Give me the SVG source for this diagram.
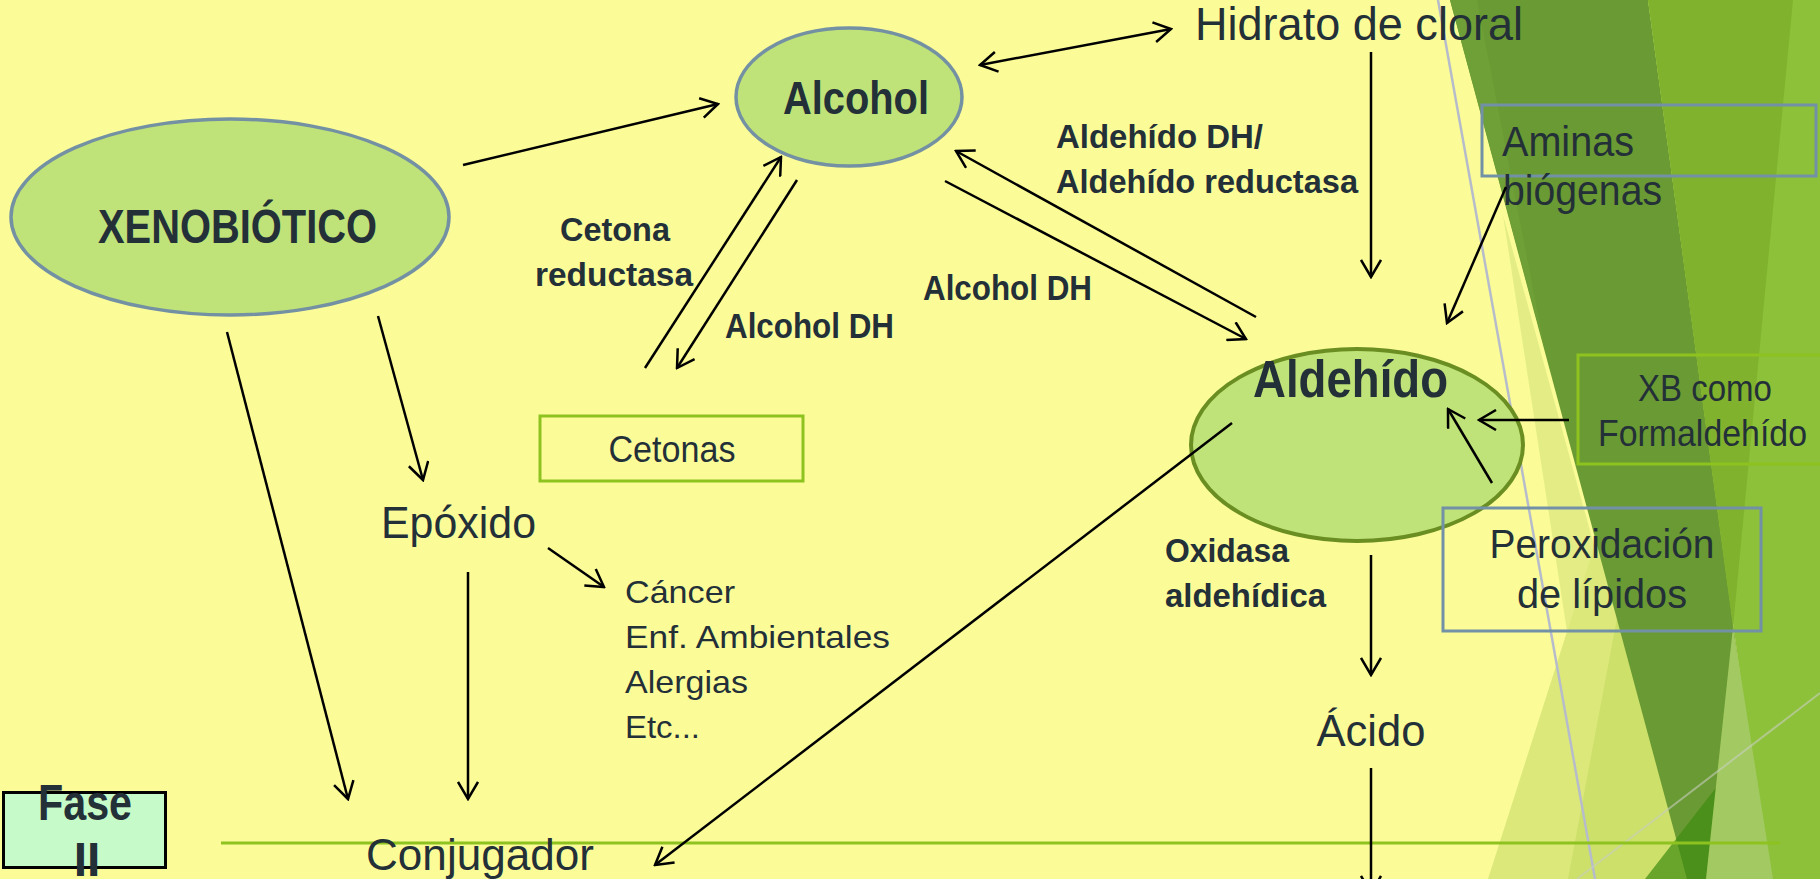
<svg xmlns="http://www.w3.org/2000/svg" width="1820" height="879" viewBox="0 0 1820 879">
  <defs>
    <style>
      .t { font-family: "Liberation Sans", Arial, sans-serif; fill: #243038; }
      .b { font-weight: bold; }
      .ln { fill: none; stroke: #000; stroke-width: 2.5; }
      .tip { marker-end: url(#arr); }
      .both { marker-start: url(#arr); marker-end: url(#arr); }
      .ovl { fill: #BFE378; }
      .box { fill: none; stroke-width: 3; }
    </style>
    <marker id="arr" viewBox="0 0 20 22" refX="18" refY="11" markerWidth="20" markerHeight="22" markerUnits="userSpaceOnUse" orient="auto-start-reverse">
      <path d="M1,1 L18,11 L1,21" fill="none" stroke="#000" stroke-width="2.5"/>
    </marker>
  </defs>

  <!-- slide background and right-hand facets -->
  <g id="background">
    <rect x="0" y="0" width="1820" height="879" fill="#FBFC98"/>
    <polygon points="1503,215 1686,879 1605,879" fill="#E4ED85"/>
    <polygon points="1488,879 1625,450 1705,879" fill="#DCE97A"/>
    <polygon points="1568,879 1628,560 1705,879" fill="#CCE06A"/>
    <polygon points="1450,0 1648,0 1768,879 1687,879" fill="#6A9A33"/>
    <polygon points="1450,0 1477,0 1545,350" fill="#6F9F37"/>
    <polygon points="1648,0 1820,0 1820,879 1768,879" fill="#8DC13A"/>
    <polygon points="1648,0 1793,0 1733,627" fill="#80B22D"/>
    <polygon points="1645,879 1718,785 1740,879" fill="#3E8C10" opacity="0.7"/>
    <polygon points="1733,627 1706,879 1773,879" fill="#A3CA62"/>
    <line x1="1438" y1="0" x2="1595" y2="879" stroke="#B7BCCB" stroke-width="2.5"/>
    <line x1="1577" y1="879" x2="1820" y2="693" stroke="#C8CFC0" stroke-width="2" opacity="0.6"/>
  </g>

  <!-- phase divider -->
  <line id="divider" x1="221" y1="843" x2="1780" y2="843" stroke="#8DC21F" stroke-width="3"/>

  <g id="xenobiotico">
    <ellipse class="ovl" cx="230" cy="217" rx="219" ry="98" stroke="#7391A3" stroke-width="3.5"/>
    <text class="t b" x="98" y="243" font-size="49" textLength="279" lengthAdjust="spacingAndGlyphs">XENOBIÓTICO</text>
  </g>

  <g id="alcohol">
    <ellipse class="ovl" cx="849" cy="97" rx="113" ry="69" stroke="#7391A3" stroke-width="3.5"/>
    <text class="t b" x="783" y="114" font-size="47" textLength="146" lengthAdjust="spacingAndGlyphs">Alcohol</text>
  </g>

  <g id="hidrato">
    <text class="t" x="1195" y="40" font-size="47" textLength="328" lengthAdjust="spacingAndGlyphs">Hidrato de cloral</text>
  </g>

  <g id="aldehido">
    <ellipse class="ovl" cx="1357" cy="445" rx="166" ry="96" stroke="#6A8E22" stroke-width="4"/>
    <text class="t b" x="1253" y="397" font-size="51" textLength="195" lengthAdjust="spacingAndGlyphs">Aldehído</text>
  </g>

  <g id="aminas">
    <rect class="box" x="1482" y="105" width="334" height="71" stroke="#7290A6"/>
    <text class="t" x="1502" y="156" font-size="42" textLength="132" lengthAdjust="spacingAndGlyphs">Aminas</text>
    <text class="t" x="1503" y="205" font-size="42" textLength="159" lengthAdjust="spacingAndGlyphs">biógenas</text>
  </g>

  <g id="formaldehido">
    <rect class="box" x="1578" y="355" width="260" height="109" stroke="#8DC21F"/>
    <text class="t" x="1705" y="401" font-size="37" text-anchor="middle" textLength="134" lengthAdjust="spacingAndGlyphs">XB como</text>
    <text class="t" x="1598" y="446" font-size="37" textLength="209" lengthAdjust="spacingAndGlyphs">Formaldehído</text>
  </g>

  <g id="peroxidacion">
    <rect class="box" x="1443" y="508" width="318" height="123" stroke="#7290A6"/>
    <text class="t" x="1602" y="558" font-size="41" text-anchor="middle" textLength="225" lengthAdjust="spacingAndGlyphs">Peroxidación</text>
    <text class="t" x="1602" y="608" font-size="41" text-anchor="middle" textLength="170" lengthAdjust="spacingAndGlyphs">de lípidos</text>
  </g>

  <g id="cetonas">
    <rect class="box" x="540" y="416" width="263" height="65" stroke="#8DC21F"/>
    <text class="t" x="672" y="462" font-size="36" text-anchor="middle" textLength="127" lengthAdjust="spacingAndGlyphs">Cetonas</text>
  </g>

  <g id="epoxido">
    <text class="t" x="381" y="538" font-size="45" textLength="155" lengthAdjust="spacingAndGlyphs">Epóxido</text>
  </g>

  <g id="efectos">
    <text class="t" x="625" y="603" font-size="32" textLength="110" lengthAdjust="spacingAndGlyphs">Cáncer</text>
    <text class="t" x="625" y="648" font-size="32" textLength="265" lengthAdjust="spacingAndGlyphs">Enf. Ambientales</text>
    <text class="t" x="625" y="693" font-size="32" textLength="123" lengthAdjust="spacingAndGlyphs">Alergias</text>
    <text class="t" x="625" y="738" font-size="32" textLength="75" lengthAdjust="spacingAndGlyphs">Etc...</text>
  </g>

  <g id="acido">
    <text class="t" x="1371" y="746" font-size="44" text-anchor="middle" textLength="109" lengthAdjust="spacingAndGlyphs">Ácido</text>
  </g>

  <g id="conjugador">
    <text class="t" x="366" y="870" font-size="45" textLength="228" lengthAdjust="spacingAndGlyphs">Conjugador</text>
  </g>

  <g id="fase2">
    <rect x="3.5" y="792.5" width="162" height="75" fill="#C6FAC9" stroke="#000" stroke-width="3"/>
    <text class="t b" x="38" y="820" font-size="50" textLength="94" lengthAdjust="spacingAndGlyphs">Fase</text>
    <text class="t b" x="87" y="876" font-size="48" text-anchor="middle">II</text>
  </g>

  <!-- arrows sit above the shapes so their ends inside the ellipses stay visible -->
  <g id="connectors">
    <line class="ln tip" x1="463" y1="165" x2="718" y2="104"/>
    <line class="ln tip" x1="378" y1="316" x2="423" y2="480"/>
    <line class="ln tip" x1="227" y1="332" x2="348" y2="799"/>
    <line class="ln both" x1="980" y1="65" x2="1171" y2="29"/>
    <line class="ln tip" x1="1371" y1="52" x2="1371" y2="277"/>
    <line class="ln tip" x1="1256" y1="317" x2="956" y2="151"/>
    <line class="ln tip" x1="945" y1="181" x2="1246" y2="339"/>
    <line class="ln tip" x1="645" y1="368" x2="781" y2="157"/>
    <line class="ln tip" x1="797" y1="180" x2="677" y2="368"/>
    <line class="ln tip" x1="1506" y1="187" x2="1447" y2="323"/>
    <line class="ln tip" x1="1569" y1="420" x2="1479" y2="420"/>
    <line class="ln tip" x1="1492" y1="483" x2="1448" y2="409"/>
    <line class="ln tip" x1="548" y1="548" x2="604" y2="587"/>
    <line class="ln tip" x1="468" y1="572" x2="468" y2="799"/>
    <line class="ln tip" x1="1232" y1="423" x2="655" y2="865"/>
    <line class="ln tip" x1="1371" y1="555" x2="1371" y2="675"/>
    <line class="ln tip" x1="1371" y1="768" x2="1371" y2="893"/>
  </g>

  <!-- enzyme labels -->
  <g id="labels">
    <text class="t b" x="1056" y="148" font-size="33" textLength="207" lengthAdjust="spacingAndGlyphs">Aldehído DH/</text>
    <text class="t b" x="1056" y="193" font-size="33" textLength="302" lengthAdjust="spacingAndGlyphs">Aldehído reductasa</text>
    <text class="t b" x="615" y="241" font-size="34" text-anchor="middle" textLength="110" lengthAdjust="spacingAndGlyphs">Cetona</text>
    <text class="t b" x="614" y="286" font-size="34" text-anchor="middle" textLength="158" lengthAdjust="spacingAndGlyphs">reductasa</text>
    <text class="t b" x="923" y="300" font-size="35" textLength="169" lengthAdjust="spacingAndGlyphs">Alcohol DH</text>
    <text class="t b" x="725" y="338" font-size="35" textLength="169" lengthAdjust="spacingAndGlyphs">Alcohol DH</text>
    <text class="t b" x="1165" y="562" font-size="34" textLength="124" lengthAdjust="spacingAndGlyphs">Oxidasa</text>
    <text class="t b" x="1165" y="607" font-size="34" textLength="161" lengthAdjust="spacingAndGlyphs">aldehídica</text>
  </g>
</svg>
